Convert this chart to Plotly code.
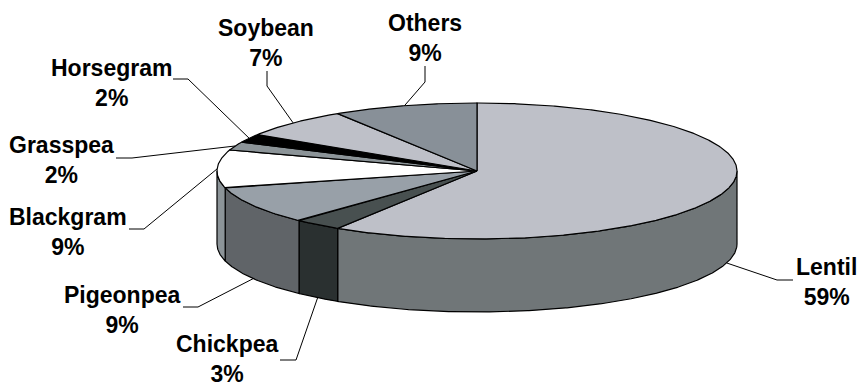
import numpy as np
import plotly.graph_objects as go

categories = ["Lentil", "Chickpea", "Pigeonpea", "Blackgram", "Grasspea", "Horsegram", "Soybean", "Others"]
values = [59, 3, 9, 9, 2, 2, 7, 9]
top_colors = ["#BEC0C8", "#485050", "#98A0A8", "#FFFFFF", "#8C9498", "#000000", "#BEC0C8", "#889098"]
side_colors = ["#707678", "#2A3030", "#606468", "#8C9498", "#8C9498", "#000000", "#BEC0C8", "#889098"]

# Pie geometry in page pixels
CX, CY, RX, RY, DEPTH = 477, 171, 260, 68, 73
# label centre and elbow segment of each leader line, page pixels
label_pos = {
    "Lentil": (826, 282), "Chickpea": (227, 359), "Pigeonpea": (122, 310), "Blackgram": (68, 232),
    "Grasspea": (61, 160), "Horsegram": (111, 83), "Soybean": (266, 43), "Others": (425, 38),
}
elbows = {
    "Lentil": [(793, 280), (777, 280)], "Chickpea": [(280, 360), (296, 360)],
    "Pigeonpea": [(183, 307), (198, 307)], "Blackgram": [(129, 229), (144, 229)],
    "Grasspea": [(116, 158), (132, 158)], "Horsegram": [(173, 79), (188, 79)],
    "Soybean": [(267, 71), (267, 86)], "Others": [(425, 66), (425, 82)],
}

total = sum(values)


def rim(deg):
    r = np.radians(deg)
    return CX + RX * np.sin(r), CY - RY * np.cos(r)


fig = go.Figure()
outline = dict(color="#000000", width=1.2)

starts = 360 * np.cumsum([0] + values[:-1]) / total
ends = 360 * np.cumsum(values) / total

# side walls (front half of the cylinder only)
for s, e, col in zip(starts, ends, side_colors):
    a, b = max(s, 90), min(e, 270)
    if b <= a:
        continue
    t = np.linspace(a, b, max(int(b - a) * 3, 8))
    x, y = rim(t)
    fig.add_trace(go.Scatter(
        x=np.r_[x, x[::-1], x[0]], y=np.r_[y, y[::-1] + DEPTH, y[0]],
        mode="lines", fill="toself", fillcolor=col, line=outline, hoverinfo="skip"))

# top faces
for s, e, col in zip(starts, ends, top_colors):
    t = np.linspace(s, e, max(int(e - s) * 3, 8))
    x, y = rim(t)
    fig.add_trace(go.Scatter(
        x=np.r_[CX, x, CX], y=np.r_[CY, y, CY],
        mode="lines", fill="toself", fillcolor=col, line=outline, hoverinfo="skip"))

# leader lines and labels
annotations = []
for name, v, s, e in zip(categories, values, starts, ends):
    mid = (s + e) / 2
    ax, ay = rim(mid)
    if 90 < mid < 270:
        ay += DEPTH
    (x0, y0), (x1, y1) = elbows[name]
    fig.add_trace(go.Scatter(x=[x0, x1, ax], y=[y0, y1, ay], mode="lines",
                             line=dict(color="#000000", width=1), hoverinfo="skip"))
    lx, ly = label_pos[name]
    annotations.append(dict(x=lx, y=ly, xref="x", yref="y", text=f"<b>{name}<br>{v}%</b>",
                            showarrow=False, align="center", xanchor="center", yanchor="middle",
                            font=dict(family="Liberation Sans", size=23, color="#000000")))

fig.update_layout(
    width=857, height=384, margin=dict(l=0, r=0, t=0, b=0), showlegend=False,
    paper_bgcolor="#FFFFFF", plot_bgcolor="#FFFFFF", annotations=annotations,
    xaxis=dict(range=[0, 857], visible=False, fixedrange=True),
    yaxis=dict(range=[384, 0], visible=False, fixedrange=True),
)
fig.write_html("out.html", config={"displayModeBar": False},
               post_script="document.body.style.margin='0';document.body.style.overflow='hidden';")
